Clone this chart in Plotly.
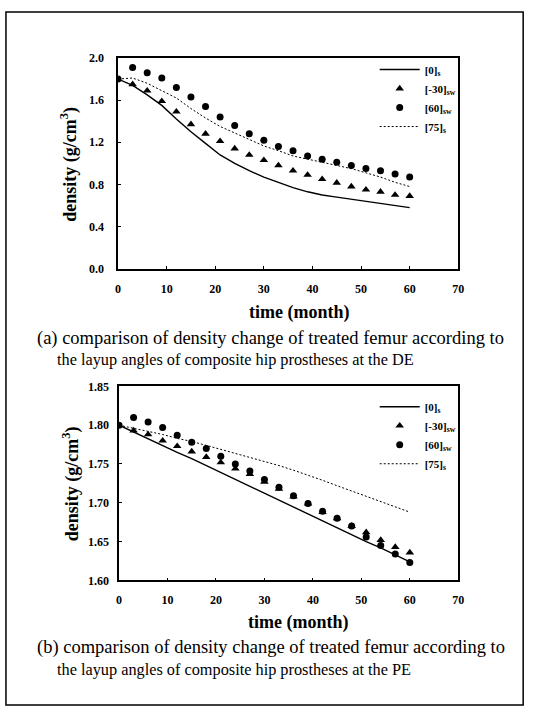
import plotly.graph_objects as go

W, H = 539, 709

# ---------------- data ----------------
months = [0, 3, 6, 9, 12, 15, 18, 21, 24, 27, 30, 33, 36, 39, 42, 45, 48, 51, 54, 57, 60]
marker_months = [3, 6, 9, 12, 15, 18, 21, 24, 27, 30, 33, 36, 39, 42, 45, 48, 51, 54, 57, 60]
circle_months = [0] + marker_months

# (a) DE
de_0 = [1.80, 1.74, 1.65, 1.55, 1.42, 1.30, 1.19, 1.08, 1.00, 0.93, 0.87, 0.82, 0.77, 0.73, 0.70, 0.68, 0.66, 0.64, 0.62, 0.60, 0.58]
de_m30 = [1.75, 1.69, 1.59, 1.49, 1.37, 1.28, 1.21, 1.14, 1.08, 1.03, 0.98, 0.93, 0.89, 0.85, 0.815, 0.78, 0.75, 0.73, 0.70, 0.69]
de_60 = [1.80, 1.91, 1.86, 1.81, 1.72, 1.63, 1.54, 1.44, 1.36, 1.28, 1.22, 1.16, 1.12, 1.07, 1.04, 1.01, 0.98, 0.95, 0.93, 0.90, 0.87]
de_75 = [1.80, 1.81, 1.76, 1.69, 1.62, 1.52, 1.43, 1.35, 1.29, 1.23, 1.165, 1.12, 1.07, 1.04, 1.01, 0.98, 0.95, 0.91, 0.87, 0.82, 0.78]

# (b) PE
pe_0 = [1.800, 1.791, 1.782, 1.774, 1.765, 1.757, 1.748, 1.739, 1.730, 1.721, 1.712, 1.703, 1.694, 1.685, 1.676, 1.667, 1.659, 1.650, 1.642, 1.633, 1.624]
pe_m30 = [1.793, 1.788, 1.780, 1.773, 1.766, 1.759, 1.752, 1.744, 1.737, 1.727, 1.718, 1.708, 1.699, 1.688, 1.680, 1.670, 1.662, 1.652, 1.643, 1.636]
pe_60 = [1.800, 1.810, 1.804, 1.797, 1.787, 1.778, 1.770, 1.760, 1.750, 1.741, 1.730, 1.720, 1.709, 1.699, 1.689, 1.680, 1.670, 1.656, 1.645, 1.634, 1.623]
pe_75 = [1.800, 1.796, 1.792, 1.788, 1.783, 1.779, 1.774, 1.769, 1.764, 1.759, 1.754, 1.748, 1.742, 1.736, 1.729, 1.722, 1.715, 1.708, 1.701, 1.694, 1.688]

names = ["[0]<sub>s</sub>", "[-30]<sub>sw</sub>", "[60]<sub>sw</sub>", "[75]<sub>s</sub>"]
x_ticks = [0, 10, 20, 30, 40, 50, 60, 70]
de_ticks = [0.0, 0.4, 0.8, 1.2, 1.6, 2.0]
pe_ticks = [1.60, 1.65, 1.70, 1.75, 1.80, 1.85]

caption_a = ["(a) comparison of density change of treated femur according to",
             "the layup angles of composite hip prostheses at the DE"]
caption_b = ["(b) comparison of density change of treated femur according to",
             "the layup angles of composite hip prostheses at the PE"]

# ---------------- helpers ----------------
def px(x):
    return x / W

def py(y):
    return 1 - y / H

SERIF = "Liberation Serif"
BLK = "black"

fig = go.Figure()

def add_set(xa, ya, leg, y0, ym30, y60, y75):
    fig.add_trace(go.Scatter(x=months, y=y0, mode="lines", name=names[0],
                             line=dict(color=BLK, width=1.4), xaxis=xa, yaxis=ya, legend=leg))
    fig.add_trace(go.Scatter(x=marker_months, y=ym30, mode="markers", name=names[1],
                             marker=dict(symbol="triangle-up", size=7.5, color=BLK),
                             xaxis=xa, yaxis=ya, legend=leg))
    fig.add_trace(go.Scatter(x=circle_months, y=y60, mode="markers", name=names[2],
                             marker=dict(symbol="circle", size=7, color=BLK),
                             xaxis=xa, yaxis=ya, legend=leg))
    fig.add_trace(go.Scatter(x=months, y=y75, mode="lines", name=names[3],
                             line=dict(color=BLK, width=1, dash="2px,2px"),
                             xaxis=xa, yaxis=ya, legend=leg))

add_set("x", "y", "legend", de_0, de_m30, de_60, de_75)
add_set("x2", "y2", "legend2", pe_0, pe_m30, pe_60, pe_75)

tickfont = dict(family=SERIF, size=12, color=BLK, weight="bold")
axis_common = dict(showgrid=False, zeroline=False, showline=True, linecolor=BLK, linewidth=1.5,
                   mirror=True, ticks="inside", ticklen=3, tickcolor=BLK, tickfont=tickfont)

leg_common = dict(font=dict(family=SERIF, size=11, color=BLK, weight="bold"),
                  bgcolor="rgba(0,0,0,0)", xanchor="left", yanchor="top",
                  tracegroupgap=0, itemwidth=40)

fig.update_layout(
    width=W, height=H, margin=dict(l=0, r=0, t=0, b=0),
    paper_bgcolor="white", plot_bgcolor="white",
    xaxis=dict(domain=[px(117), px(463)], range=[0, 70], tickvals=x_ticks, anchor="y",
               ticklabelstandoff=8, **axis_common),
    yaxis=dict(domain=[py(267), py(52)], range=[0, 2.0], tickvals=de_ticks, tickformat=".1f",
               anchor="x", ticklabelstandoff=10, **axis_common),
    xaxis2=dict(domain=[px(118), px(463)], range=[0, 70], tickvals=x_ticks, anchor="y2",
                ticklabelstandoff=7, **axis_common),
    yaxis2=dict(domain=[py(585), py(387)], range=[1.60, 1.85], tickvals=pe_ticks, tickformat=".2f",
                anchor="x2", ticklabelstandoff=6, **axis_common),
    legend=dict(x=px(378), y=py(49), **leg_common),
    legend2=dict(x=px(378), y=py(393), **leg_common),
    showlegend=True,
)

title_font = dict(family=SERIF, size=18, color=BLK, weight="bold")

ann = []
# axis titles
ann.append(dict(text="density (g/cm<sup>3</sup>)", x=px(67), y=py(160), textangle=-90,
                xref="paper", yref="paper", showarrow=False, font=title_font,
                xanchor="center", yanchor="middle"))
ann.append(dict(text="density (g/cm<sup>3</sup>)", x=px(70), y=py(486), textangle=-90,
                xref="paper", yref="paper", showarrow=False, font=title_font,
                xanchor="center", yanchor="middle"))
ann.append(dict(text="time (month)", x=px(301), y=py(312), xref="paper", yref="paper",
                showarrow=False, font=title_font, xanchor="center", yanchor="middle"))
ann.append(dict(text="time (month)", x=px(300), y=py(628), xref="paper", yref="paper",
                showarrow=False, font=title_font, xanchor="center", yanchor="middle"))
# captions
for (txt, xx, yy, sz) in [(caption_a[0], 33, 338, 18.5), (caption_a[1], 53, 360, 16.3),
                          (caption_b[0], 33, 653, 18.5), (caption_b[1], 53, 676, 16.3)]:
    ann.append(dict(text=txt, x=px(xx), y=py(yy), xref="paper", yref="paper",
                    showarrow=False, font=dict(family=SERIF, size=sz, color=BLK),
                    xanchor="left", yanchor="middle"))
fig.update_layout(annotations=ann)

# outer frame
fig.add_shape(type="rect", xref="paper", yref="paper", x0=px(3), x1=px(529), y0=py(712), y1=py(5),
              line=dict(color=BLK, width=1.5))

fig.write_html("out.html")
